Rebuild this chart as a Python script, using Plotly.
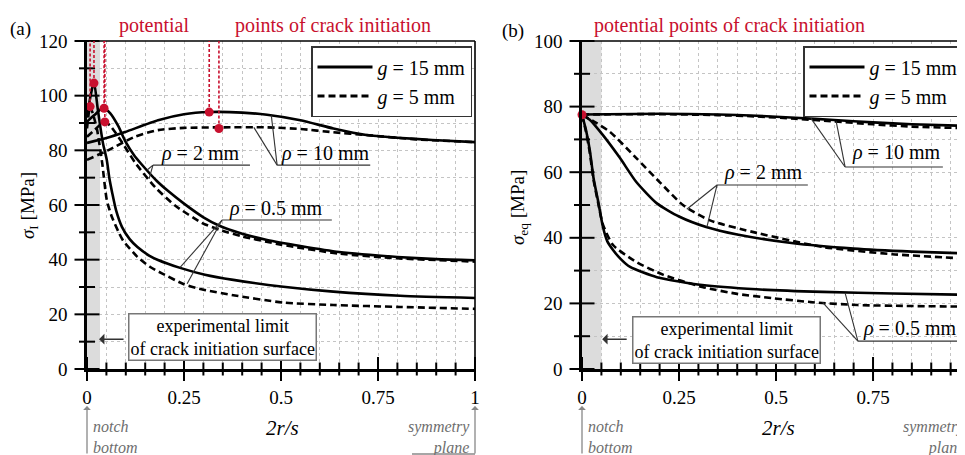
import plotly.graph_objects as go

# ---------------- data ----------------
# Panel (a): sigma_1 [MPa] vs 2r/s
a_r05_g15_x = [0, 0.003, 0.01, 0.018, 0.028, 0.041, 0.051, 0.058, 0.065, 0.075, 0.09, 0.11, 0.13, 0.16, 0.183, 0.24, 0.304, 0.377, 0.506, 0.635, 0.807, 1.0]
a_r05_g15_y = [92, 94.8, 100.5, 105, 94.8, 82.7, 76.5, 69.5, 64.4, 58.0, 52.0, 47.5, 44.6, 41.5, 39.9, 37.0, 34.5, 32.6, 30.1, 28.3, 26.8, 26.0]

a_r05_g5_x = [0, 0.004, 0.008, 0.015, 0.026, 0.039, 0.051, 0.064, 0.081, 0.093, 0.13, 0.162, 0.193, 0.25, 0.3, 0.377, 0.506, 0.635, 0.807, 1.0]
a_r05_g5_y = [88, 93, 96, 93.5, 87.5, 75.5, 61.8, 55.7, 50.2, 47.0, 41.0, 37.4, 35.0, 31.0, 29.0, 27.0, 24.3, 23.4, 22.7, 22.0]

a_r2_g15_x = [0, 0.02, 0.035, 0.044, 0.06, 0.08, 0.1, 0.12, 0.14, 0.18, 0.21, 0.25, 0.3, 0.34, 0.4, 0.464, 0.55, 0.65, 0.8, 0.9, 1.0]
a_r2_g15_y = [90.5, 93, 95, 95.4, 93.5, 89, 83, 78.5, 75.0, 68.8, 65.0, 60.5, 55.5, 52.5, 49.5, 47.2, 45.0, 42.8, 41.0, 40.2, 39.8]

a_r2_g5_x = [0, 0.02, 0.035, 0.046, 0.06, 0.09, 0.124, 0.175, 0.227, 0.297, 0.34, 0.4, 0.5, 0.65, 0.8, 1.0]
a_r2_g5_y = [85, 87.5, 89.5, 90.4, 89, 83.0, 75.5, 66.6, 59.8, 53.4, 51.0, 48.5, 45.5, 42.2, 40.5, 39.3]

a_r10_g15_x = [0, 0.05, 0.098, 0.183, 0.25, 0.315, 0.4, 0.464, 0.55, 0.635, 0.72, 0.8, 0.89, 1.0]
a_r10_g15_y = [82.7, 84.5, 86.7, 91.0, 93.2, 94.0, 93.8, 93.0, 91.0, 88.0, 85.6, 84.6, 83.8, 83.0]

a_r10_g5_x = [0, 0.054, 0.124, 0.183, 0.25, 0.34, 0.464, 0.55, 0.635, 0.72, 0.85, 1.0]
a_r10_g5_y = [76.5, 80.0, 85.0, 87.4, 88.2, 88.4, 88.4, 87.8, 86.6, 85.6, 84.0, 83.0]

# potential crack-initiation points, panel (a)
a_crack_x = [0.008, 0.018, 0.044, 0.046, 0.315, 0.34]
a_crack_y = [96, 104.6, 95.4, 90.4, 94.0, 88.0]

# Panel (b): sigma_eq [MPa] vs 2r/s
b_r05_g15_x = [0, 0.01, 0.02, 0.03, 0.041, 0.054, 0.065, 0.08, 0.1, 0.124, 0.193, 0.31, 0.45, 0.62, 0.8, 1.0]
b_r05_g15_y = [77.5, 73, 66.8, 58, 51.5, 43.3, 39.0, 36.3, 33.5, 31.1, 28.0, 25.6, 24.3, 23.5, 23.0, 22.6]

b_r05_g5_x = [0, 0.01, 0.02, 0.03, 0.041, 0.054, 0.08, 0.14, 0.21, 0.31, 0.4, 0.49, 0.6, 0.71, 0.85, 1.0]
b_r05_g5_y = [77.5, 72.5, 66, 57.5, 51, 44, 37.8, 32.6, 28.7, 25.0, 22.9, 21.6, 20.3, 19.5, 19.2, 19.0]

b_r2_g15_x = [0, 0.02, 0.054, 0.098, 0.14, 0.193, 0.25, 0.32, 0.4, 0.54, 0.7, 0.85, 1.0]
b_r2_g15_y = [77.5, 76, 71.3, 64.3, 57, 50.5, 46.5, 43.3, 41.0, 38.4, 36.7, 35.8, 35.2]

b_r2_g5_x = [0, 0.03, 0.072, 0.14, 0.2, 0.26, 0.33, 0.45, 0.62, 0.8, 1.0]
b_r2_g5_y = [77.5, 75.5, 72.3, 64.3, 57, 50, 45.3, 41.5, 37.2, 35.0, 33.6]

b_r10_g15_x = [0, 0.2, 0.35, 0.45, 0.55, 0.65, 0.75, 0.85, 1.0]
b_r10_g15_y = [77.6, 77.8, 77.6, 77.2, 76.6, 75.9, 75.2, 74.6, 74.1]

b_r10_g5_x = [0, 0.2, 0.35, 0.45, 0.55, 0.65, 0.75, 0.85, 1.0]
b_r10_g5_y = [77.6, 77.7, 77.4, 77.0, 76.3, 75.5, 74.6, 73.9, 73.4]

b_crack_x = [0.0]
b_crack_y = [77.5]

x_tick_vals = [0, 0.25, 0.5, 0.75, 1]
x_tick_text = ["0", "0.25", "0.5", "0.75", "1"]
a_y_ticks = [0, 20, 40, 60, 80, 100, 120]
b_y_ticks = [0, 20, 40, 60, 80, 100]

legend_labels = ["<i>g</i> = 15 mm", "<i>g</i> = 5 mm"]

# ---------------- styling / layout ----------------
FONT = "'Liberation Serif', 'Times New Roman', serif"
RED = "#c8102e"
GRAY_TXT = "#6e6e6e"
DASH = "7px,4px"
OFF = 8            # default page margin of the html body
W = 965 - OFF
H = 455 - OFF


def px(p):
    """reference window pixel (x) -> paper fraction"""
    return (p - OFF) / W


def py(p):
    """reference window pixel (y) -> paper fraction"""
    return 1 - (p - OFF) / H


XDOM_A = [px(87), px(475)]
XDOM_B = [px(582), 1.0]
XRANGE_A = [0, 1]
XRANGE_B = [0, 0.987]
YDOM = [py(369), py(41)]
YRANGE_A = [0, 120]
YRANGE_B = [0, 100]

fig = go.Figure()


def curve(x, y, dashed, xa, ya):
    fig.add_trace(go.Scatter(
        x=x, y=y, mode="lines", xaxis=xa, yaxis=ya, showlegend=False,
        line=dict(color="black", width=2.6, dash=DASH if dashed else "solid",
                  shape="spline", smoothing=0.6),
        hoverinfo="skip"))


for (x, y, d) in [(a_r10_g15_x, a_r10_g15_y, False), (a_r10_g5_x, a_r10_g5_y, True),
                  (a_r2_g15_x, a_r2_g15_y, False), (a_r2_g5_x, a_r2_g5_y, True),
                  (a_r05_g15_x, a_r05_g15_y, False), (a_r05_g5_x, a_r05_g5_y, True)]:
    curve(x, y, d, "x", "y")

for (x, y, d) in [(b_r10_g15_x, b_r10_g15_y, False), (b_r10_g5_x, b_r10_g5_y, True),
                  (b_r2_g15_x, b_r2_g15_y, False), (b_r2_g5_x, b_r2_g5_y, True),
                  (b_r05_g15_x, b_r05_g15_y, False), (b_r05_g5_x, b_r05_g5_y, True)]:
    curve(x, y, d, "x2", "y2")

# legend-only traces
for leg, xa, ya in [("legend", "x", "y"), ("legend2", "x2", "y2")]:
    for lab, d in zip(legend_labels, [False, True]):
        fig.add_trace(go.Scatter(
            x=[None], y=[None], mode="lines", name=lab, legend=leg, xaxis=xa, yaxis=ya,
            line=dict(color="black", width=3, dash=DASH if d else "solid")))

# crack initiation points
fig.add_trace(go.Scatter(x=a_crack_x, y=a_crack_y, mode="markers", showlegend=False,
                         marker=dict(color=RED, size=9), xaxis="x", yaxis="y", hoverinfo="skip"))
fig.add_trace(go.Scatter(x=b_crack_x, y=b_crack_y, mode="markers", showlegend=False,
                         marker=dict(color=RED, size=9), xaxis="x2", yaxis="y2", hoverinfo="skip",
                         cliponaxis=False))

shapes = []
annotations = []

# shaded experimental limit region
shapes.append(dict(type="rect", xref="x", yref="y", x0=0, x1=0.0335, y0=0, y1=120,
                   fillcolor="#dcdcdc", line=dict(width=0), layer="below"))
shapes.append(dict(type="rect", xref="x2", yref="y2", x0=0, x1=0.05, y0=0, y1=100,
                   fillcolor="#dcdcdc", line=dict(width=0), layer="below"))

# frame top/right
shapes.append(dict(type="line", xref="x domain", yref="y domain", x0=0, x1=1, y0=1, y1=1,
                   line=dict(color="black", width=1.6)))
shapes.append(dict(type="line", xref="x domain", yref="y domain", x0=1, x1=1, y0=0, y1=1,
                   line=dict(color="black", width=1.6)))
shapes.append(dict(type="line", xref="x2 domain", yref="y2 domain", x0=0, x1=1, y0=1, y1=1,
                   line=dict(color="black", width=1.6)))


# crossing tick marks (paper coordinates derived from axis domain/range)
def to_paper(v, dom, rng):
    return dom[0] + (v - rng[0]) / (rng[1] - rng[0]) * (dom[1] - dom[0])


def yticks(xdom, ydom, yrng):
    x_axis = xdom[0]
    for v in range(int(yrng[0]), int(yrng[1]) + 1, 10):
        L = 12.5 if v % 20 == 0 else 8
        yp = to_paper(v, ydom, yrng)
        shapes.append(dict(type="line", xref="paper", yref="paper",
                           x0=x_axis - L / W, x1=x_axis + L / W, y0=yp, y1=yp,
                           line=dict(color="black", width=2)))


def xticks(xdom, xrng, ydom):
    y_axis = ydom[0]
    for i in range(0, 21):
        v = i * 0.05
        if v > xrng[1] + 1e-9:
            continue
        L = 12 if i % 5 == 0 else 6.5
        xp = to_paper(v, xdom, xrng)
        shapes.append(dict(type="line", xref="paper", yref="paper",
                           x0=xp, x1=xp, y0=y_axis - L / H, y1=y_axis + L / H,
                           line=dict(color="black", width=2)))


yticks(XDOM_A, YDOM, YRANGE_A)
yticks(XDOM_B, YDOM, YRANGE_B)
xticks(XDOM_A, XRANGE_A, YDOM)
xticks(XDOM_B, XRANGE_B, YDOM)

# red dashed guides + arrows
for cx, cy in zip(a_crack_x, a_crack_y):
    shapes.append(dict(type="line", xref="x", yref="y", x0=cx, x1=cx, y0=cy, y1=120,
                       line=dict(color=RED, width=1.6, dash="3px,2px")))
    annotations.append(dict(xref="x", yref="y", x=cx, y=122.2, text="", showarrow=True,
                            ax=0, ay=-24, arrowhead=2, arrowsize=1.1, arrowwidth=2,
                            arrowcolor=RED))
annotations.append(dict(xref="x2", yref="y2", x=-0.016, y=101.8, text="", showarrow=True,
                        ax=0, ay=-24, arrowhead=2, arrowsize=1.1, arrowwidth=2, arrowcolor=RED))


def txt(x, y, s, xref="paper", yref="paper", size=20, color="black", xanchor="center",
        yanchor="middle", align="center", angle=0):
    annotations.append(dict(x=x, y=y, xref=xref, yref=yref, text=s, showarrow=False,
                            font=dict(family=FONT, size=size, color=color),
                            xanchor=xanchor, yanchor=yanchor, align=align, textangle=angle))


# red header texts
txt(px(117), py(25), "potential", color=RED, xanchor="left")
txt(px(233), py(25), "points of crack initiation", color=RED, xanchor="left")
txt(px(592), py(25), "potential points of crack initiation", color=RED, xanchor="left")

# panel letters
txt(px(8), py(29), "(a)", size=19, xanchor="left")
txt(px(500), py(31), "(b)", size=19, xanchor="left")

# axis titles
txt(px(29), py(206), "<i>σ</i><sub>I</sub> [MPa]", size=19, angle=-90)
txt(px(519), py(208), "<i>σ</i><sub>eq</sub> [MPa]", size=19, angle=-90)
txt(px(282), py(428), "<i>2r/s</i>", size=21)
txt(px(778), py(428), "<i>2r/s</i>", size=21)

# notch bottom / symmetry plane
for xa, x0, x1 in [("x", 0, 1), ("x2", 0, None)]:
    annotations.append(dict(xref=xa, yref="paper", x=x0, y=py(406), text="", showarrow=True,
                            ax=0, ay=52, arrowhead=1, arrowsize=1, arrowwidth=1.3,
                            arrowcolor="#888888"))
    if x1 is not None:
        annotations.append(dict(xref=xa, yref="paper", x=x1, y=py(406), text="", showarrow=True,
                                ax=0, ay=52, arrowhead=1, arrowsize=1, arrowwidth=1.3,
                                arrowcolor="#888888"))
txt(px(91), py(437), "<i>notch<br>bottom</i>", size=16, color=GRAY_TXT, xanchor="left", align="left")
txt(px(586), py(437), "<i>notch<br>bottom</i>", size=16, color=GRAY_TXT, xanchor="left", align="left")
txt(px(472), py(437), "<i>symmetry<br>plane</i>", size=16, color=GRAY_TXT, xanchor="right", align="right")
txt(px(967), py(437), "<i>symmetry<br>plane</i>", size=16, color=GRAY_TXT, xanchor="right", align="right")
shapes.append(dict(type="line", xref="paper", yref="paper", x0=px(412), x1=px(475), y0=py(454), y1=py(454),
                   line=dict(color="#888888", width=1.3)))

# experimental limit boxes
for xa, ya, cx, cy, tipx, tipy in [("x", "y", 0.35, 11.7, 0.031, 10.9), ("x2", "y2", 0.373, 8.8, 0.052, 9.1)]:
    annotations.append(dict(xref=xa, yref=ya, x=cx, y=cy,
                            text="experimental limit<br>of crack initiation surface",
                            showarrow=False, font=dict(family=FONT, size=18, color="black"),
                            bgcolor="white", bordercolor="#777777", borderwidth=1.5, borderpad=1))
    annotations.append(dict(xref=xa, yref=ya, x=tipx, y=tipy, text="", showarrow=True,
                            ax=26, ay=0, arrowhead=1, arrowsize=1.2, arrowwidth=1.5,
                            arrowcolor="#333333"))

# rho labels with underline and leader lines
rho_labels = [
    ("x", "y", 0.291, 79.0, 0.17, 0.42, 74.6, [(0.155, 72.8), (0.16, 69.6)], "<i>ρ</i> = 2 mm"),
    ("x", "y", 0.613, 79.0, 0.49, 0.73, 74.6, [(0.43, 88.4), (0.475, 92.8)], "<i>ρ</i> = 10 mm"),
    ("x", "y", 0.485, 58.9, 0.348, 0.631, 54.5, [(0.24, 37.2), (0.258, 31.2)], "<i>ρ</i> = 0.5 mm"),
    ("x2", "y2", 0.809, 65.9, 0.678, 0.93, 61.6, [(0.59, 76.4), (0.655, 75.5)], "<i>ρ</i> = 10 mm"),
    ("x2", "y2", 0.466, 59.8, 0.348, 0.582, 56.1, [(0.27, 48.7), (0.322, 43.3)], "<i>ρ</i> = 2 mm"),
    ("x2", "y2", 0.845, 12.5, 0.711, 0.99, 8.5, [(0.62, 20.3), (0.678, 23.2)], "<i>ρ</i> = 0.5 mm"),
]
for xa, ya, tx, ty, u0, u1, uy, targets, s in rho_labels:
    txt(tx, ty, s, xref=xa, yref=ya, size=20)
    shapes.append(dict(type="line", xref=xa, yref=ya, x0=u0, x1=u1, y0=uy, y1=uy,
                       line=dict(color="#333333", width=1.1)))
    for lx, ly in targets:
        shapes.append(dict(type="line", xref=xa, yref=ya, x0=u0, x1=lx, y0=uy, y1=ly,
                           line=dict(color="#333333", width=1.1)))

axis_font = dict(family=FONT, size=19, color="black")
grid = dict(showgrid=True, gridcolor="#c4c4c4", griddash="dot", gridwidth=1)

common_x = dict(tickvals=x_tick_vals, ticktext=x_tick_text, ticks="outside", ticklen=9,
                tickcolor="rgba(0,0,0,0)", showline=True, linecolor="black", linewidth=2.5,
                zeroline=False, tickfont=axis_font, automargin=False,
                minor=dict(dtick=0.05, tick0=0, showgrid=True, gridcolor="#c4c4c4", griddash="dot",
                           ticks=""), **grid)
common_y = dict(ticks="outside", ticklen=13, tickcolor="rgba(0,0,0,0)", showline=True,
                linecolor="black", linewidth=2.5, zeroline=False, tickfont=axis_font,
                automargin=False,
                minor=dict(dtick=10, tick0=0, showgrid=True, gridcolor="#c4c4c4", griddash="dot",
                           ticks=""), **grid)

legend_common = dict(bgcolor="white", bordercolor="#333333", borderwidth=1.5,
                     font=dict(family=FONT, size=20, color="black"), xanchor="right",
                     yanchor="top", tracegroupgap=0, itemwidth=55)

fig.update_layout(
    width=W, height=H, margin=dict(l=0, r=0, t=0, b=0, autoexpand=False),
    paper_bgcolor="white", plot_bgcolor="white",
    font=dict(family=FONT, size=19, color="black"),
    xaxis=dict(domain=XDOM_A, range=XRANGE_A, anchor="y", **common_x),
    yaxis=dict(domain=YDOM, range=YRANGE_A, tickvals=a_y_ticks, anchor="x", **common_y),
    xaxis2=dict(domain=XDOM_B, range=XRANGE_B, anchor="y2", **common_x),
    yaxis2=dict(domain=YDOM, range=YRANGE_B, tickvals=b_y_ticks, anchor="x2", **common_y),
    legend=dict(x=px(472), y=py(46), **legend_common),
    legend2=dict(x=px(964), y=py(46), **legend_common),
    shapes=shapes, annotations=annotations,
)

fig.write_html("out.html")
